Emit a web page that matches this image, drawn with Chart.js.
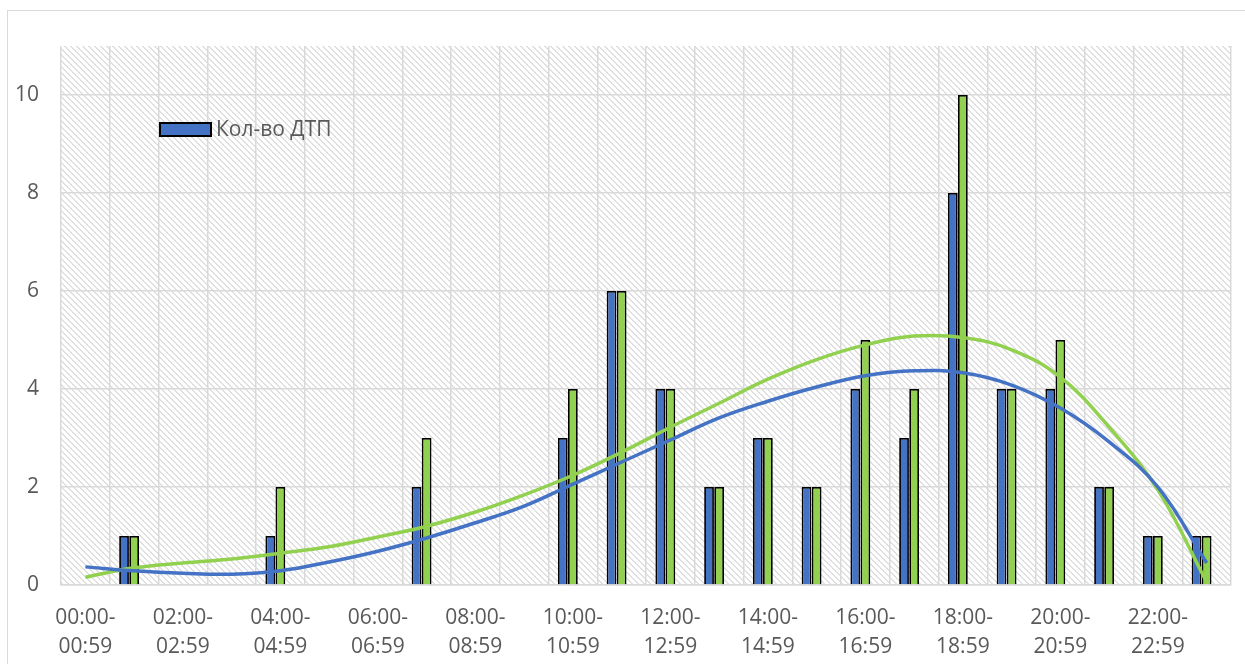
<!DOCTYPE html>
<html><head><meta charset="utf-8">
<script src="https://cdn.jsdelivr.net/npm/chart.js@4.4.0/dist/chart.umd.min.js"></script>
<style>
html,body{margin:0;padding:0;background:#fff;}
#wrap{position:relative;width:1245px;height:664px;overflow:hidden;}
#frame{position:absolute;left:7px;top:10px;width:1300px;height:700px;border:1px solid #d9d9d9;box-sizing:border-box;}
canvas{position:absolute;left:0;top:0;}
</style></head><body>
<div id="wrap"><div id="frame"></div><canvas id="c" width="1245" height="664"></canvas></div>
<script>
const categories = [
  ['00:00-','00:59'],['01:00-','01:59'],['02:00-','02:59'],['03:00-','03:59'],
  ['04:00-','04:59'],['05:00-','05:59'],['06:00-','06:59'],['07:00-','07:59'],
  ['08:00-','08:59'],['09:00-','09:59'],['10:00-','10:59'],['11:00-','11:59'],
  ['12:00-','12:59'],['13:00-','13:59'],['14:00-','14:59'],['15:00-','15:59'],
  ['16:00-','16:59'],['17:00-','17:59'],['18:00-','18:59'],['19:00-','19:59'],
  ['20:00-','20:59'],['21:00-','21:59'],['22:00-','22:59'],['23:00-','23:59']
];
const seriesName = 'Кол-во ДТП';
const seriesBlue  = [0,1,0,0,1,0,0,2,0,0,3,6,4,2,3,2,4,3,8,4,4,2,1,1];
const seriesGreen = [0,1,0,0,2,0,0,3,0,0,4,6,4,2,3,2,5,4,10,4,5,2,1,1];
const spacerSeries = [null,null,null,null,null,null,null,null,null,null,null,null,null,null,null,null,null,null,null,null,null,null,null,null];
const trendBlue  = [0.37,0.29,0.24,0.22,0.29,0.47,0.69,0.96,1.27,1.61,2.06,2.51,2.96,3.41,3.75,4.04,4.27,4.37,4.33,4.08,3.61,2.92,2.0,0.45];
const trendGreen = [0.16,0.35,0.45,0.53,0.65,0.78,0.98,1.2,1.49,1.84,2.24,2.71,3.22,3.71,4.2,4.6,4.9,5.08,5.05,4.8,4.24,3.22,1.94,0.06];
const yTicks = [0,2,4,6,8,10];

const BLUE = '#4472C4', GREEN = '#92D050', GRID = '#d9d9d9', TEXT = '#595959';
const FONT = '"Open Sans", "Liberation Sans", sans-serif';

function makePattern(ctx){
  const t = document.createElement('canvas');
  t.width = 6; t.height = 6;
  const c = t.getContext('2d');
  c.fillStyle = '#fff'; c.fillRect(0,0,6,6);
  c.fillStyle = '#e0e0e0';
  for (let i=0;i<6;i++){ c.fillRect(i,i,1,1); c.fillRect((i+1)%6,i,1,1); }
  return ctx.createPattern(t,'repeat');
}

const hatchPlugin = {
  id:'hatch',
  beforeDraw(chart){
    const {ctx, chartArea:a} = chart;
    ctx.save();
    ctx.fillStyle = makePattern(ctx);
    ctx.fillRect(a.left, a.top, a.right-a.left, a.bottom-a.top);
    ctx.restore();
  }
};

const legendPlugin = {
  id:'customLegend',
  afterDraw(chart){
    const ctx = chart.ctx;
    const ds = chart.data.datasets[0];
    ctx.save();
    ctx.fillStyle = ds.backgroundColor;
    ctx.fillRect(160,123,51,13);
    ctx.strokeStyle = '#000'; ctx.lineWidth = 2;
    ctx.strokeRect(160,123,51,13);
    ctx.fillStyle = TEXT;
    ctx.font = '21px ' + FONT;
    ctx.textBaseline = 'middle';
    ctx.fillText(ds.label, 216, 130);
    ctx.restore();
  }
};

new Chart(document.getElementById('c'), {
  data: {
    labels: categories,
    datasets: [
      {type:'bar', label: seriesName, data: seriesBlue, backgroundColor: BLUE, borderColor:'#000', borderWidth:1.8, order:2,
       categoryPercentage:0.62, barPercentage:0.97},
      {type:'bar', label: '', data: seriesGreen, backgroundColor: GREEN, borderColor:'#000', borderWidth:1.8, order:2,
       categoryPercentage:0.62, barPercentage:0.97},
      {type:'bar', label: '', data: spacerSeries, backgroundColor:'rgba(0,0,0,0)', order:2,
       categoryPercentage:0.62, barPercentage:0.97},
      {type:'line', label:'', data: trendBlue, borderColor: BLUE, borderWidth:3.5, pointRadius:0, tension:0.4, order:0},
      {type:'line', label:'', data: trendGreen, borderColor: GREEN, borderWidth:3.5, pointRadius:0, tension:0.4, order:0}
    ]
  },
  options: {
    responsive:false, animation:false, devicePixelRatio:1,
    layout:{padding:{left:0, top:46, right:14, bottom:0}},
    plugins:{legend:{display:false}, tooltip:{enabled:false}},
    scales:{
      x:{
        offset:true,
        grid:{offset:true, color:GRID, lineWidth:1.5, drawTicks:false},
        border:{display:true, color:GRID, width:1.5},
        ticks:{autoSkip:false, maxRotation:0, minRotation:0, padding:19, color:TEXT,
               font:{family:FONT, size:21, lineHeight:1.35},
               callback:(v,i)=> i%2===0 ? categories[i] : ''},
        afterFit:(s)=>{ s.height = 79; }
      },
      y:{
        min:0, max:11,
        afterBuildTicks:(s)=>{ s.ticks = yTicks.map(v=>({value:v})); },
        grid:{color:GRID, lineWidth:1.5, drawTicks:false},
        border:{display:false},
        ticks:{padding:22, color:TEXT, font:{family:FONT, size:21}},
        afterFit:(s)=>{ s.width = 61; }
      }
    }
  },
  plugins:[hatchPlugin, legendPlugin]
});
</script>
</body></html>
